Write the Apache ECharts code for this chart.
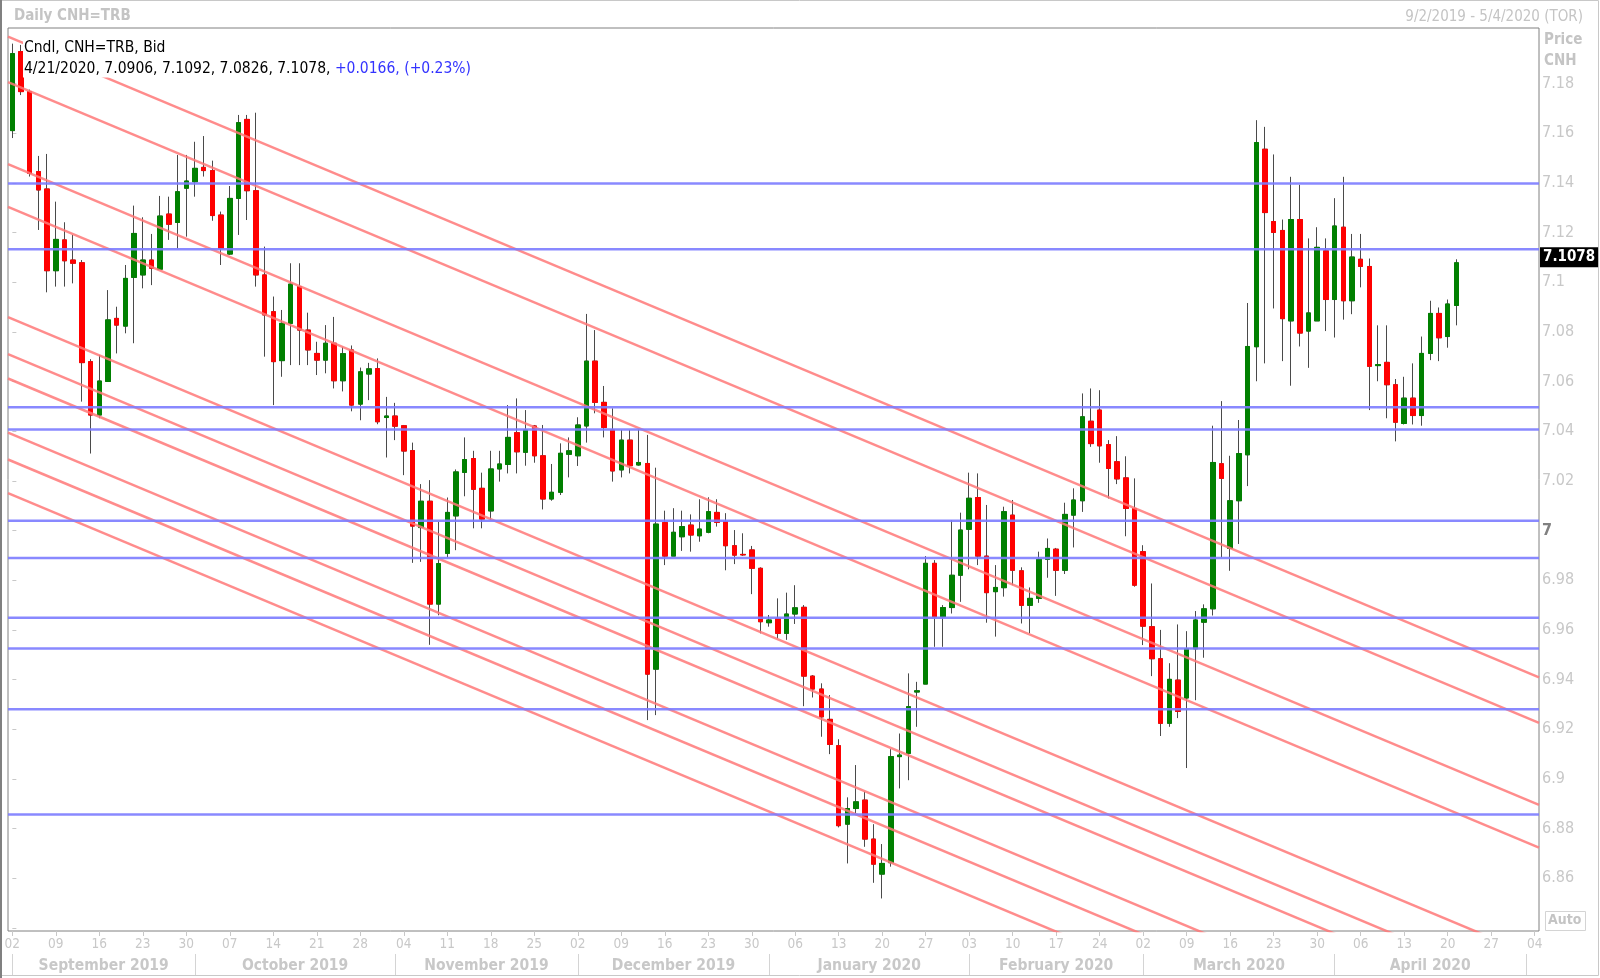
<!DOCTYPE html>
<html>
<head>
<meta charset="utf-8">
<script src="https://cdn.jsdelivr.net/npm/echarts@6/dist/echarts.min.js"></script>
<style>
html,body{margin:0;padding:0;background:#fff;}
#chart{width:1600px;height:978px;}
</style>
</head>
<body>
<div id="chart"></div>
<script>
// ---------- DATA ----------
const startDay = '2019-09-02';
const endDay = '2020-05-04';

const opens = [
7.1610,7.1928,7.1767,7.1445,7.1375,7.1046,7.1170,7.1089,7.1078,7.0680,
7.0465,7.0600,7.0854,7.0823,7.1019,7.1029,7.1089,7.1052,7.1274,7.1240,
7.1378,7.1404,7.1462,7.1449,7.1270,7.1113,7.1337,7.1655,7.1368,7.1029,
7.0881,7.0684,7.0834,7.0982,7.0807,7.0713,7.0686,7.0754,7.0603,7.0727,
7.0509,7.0630,7.0652,7.0455,7.0461,7.0422,7.0322,7.0012,7.0118,6.9704,
6.9908,7.0059,7.0234,7.0290,7.0170,7.0079,7.0248,7.0266,7.0394,7.0315,
7.0421,7.0301,7.0127,7.0154,7.0307,7.0301,7.0421,7.0682,7.0516,7.0405,
7.0244,7.0364,7.0264,7.0270,6.9442,7.0032,6.9897,6.9975,7.0022,6.9979,
6.9993,7.0073,7.0036,6.9939,6.9904,6.9922,6.9848,6.9629,6.9646,6.9586,
6.9664,6.9691,6.9414,6.9362,6.9240,6.9134,6.8818,6.8881,6.8915,6.8758,
6.8617,6.8663,6.9090,6.9103,6.9350,6.9382,6.9868,6.9653,6.9690,6.9820,
7.0005,7.0133,6.9897,6.9754,6.9770,7.0062,6.9838,6.9699,6.9727,6.9884,
6.9925,6.9840,7.0062,7.0120,7.0440,7.0485,7.0346,7.0277,7.0212,7.0089,
6.9915,6.9613,6.9484,6.9224,6.9398,6.9326,6.9524,6.9631,6.9685,7.0269,
6.9928,7.0120,7.0305,7.0740,7.1535,7.1244,7.1208,7.0844,7.1252,7.0803,
7.0844,7.1126,7.0930,7.1221,7.0925,7.1092,7.1063,7.0664,7.0677,7.0587,
7.0431,7.0533,7.0463,7.0713,7.0874,7.0781,7.0906
];
const highs = [
7.1960,7.1955,7.1775,7.1508,7.1516,7.1324,7.1241,7.1190,7.1089,7.0690,
7.0707,7.0968,7.0901,7.1069,7.1308,7.1261,7.1194,7.1347,7.1344,7.1512,
7.1512,7.1565,7.1588,7.1489,7.1284,7.1387,7.1673,7.1673,7.1682,7.1143,
7.0942,7.0888,7.1076,7.1076,7.0877,7.0760,7.0827,7.0860,7.0740,7.0745,
7.0656,7.0675,7.0693,7.0538,7.0514,7.0425,7.0354,7.0187,7.0203,7.0035,
7.0133,7.0246,7.0375,7.0321,7.0233,7.0321,7.0321,7.0505,7.0532,7.0485,
7.0425,7.0425,7.0268,7.0351,7.0375,7.0456,7.0872,7.0807,7.0582,7.0492,
7.0405,7.0405,7.0407,7.0385,7.0253,7.0080,7.0090,7.0080,7.0065,7.0126,
7.0134,7.0126,7.0070,7.0002,6.9989,6.9938,6.9852,6.9660,6.9727,6.9750,
6.9780,6.9700,6.9418,6.9385,6.9338,6.9160,6.8926,6.9056,6.8949,6.8818,
6.8738,6.9120,6.9183,6.9425,6.9391,6.9897,6.9881,6.9700,7.0042,7.0072,
7.0233,7.0230,7.0103,6.9861,7.0096,7.0123,6.9852,6.9771,6.9915,6.9968,
6.9930,7.0112,7.0170,7.0552,7.0572,7.0565,7.0364,7.0380,7.0299,7.0210,
6.9941,6.9787,6.9600,6.9466,6.9622,6.9595,6.9676,6.9703,7.0422,7.0521,
7.0301,7.0445,7.0916,7.1652,7.1625,7.1514,7.1252,7.1424,7.1392,7.1176,
7.1221,7.1176,7.1338,7.1424,7.1194,7.1194,7.1095,7.0826,7.0826,7.0610,
7.0619,7.0673,7.0781,7.0925,7.0898,7.0930,7.1092
];
const lows = [
7.1580,7.1753,7.1425,7.1210,7.0959,7.0982,7.0982,7.0995,7.0519,7.0310,
7.0452,7.0598,7.0713,7.0794,7.0754,7.0975,7.0988,7.1050,7.1170,7.1136,
7.1183,7.1344,7.1425,7.1247,7.1069,7.1109,7.1190,7.1250,7.0982,7.0700,
7.0505,7.0619,7.0666,7.0666,7.0666,7.0626,7.0633,7.0572,7.0560,7.0480,
7.0444,7.0525,7.0428,7.0294,7.0364,7.0223,6.9870,6.9874,6.9540,6.9659,
6.9892,6.9921,7.0138,7.0009,7.0009,7.0042,7.0197,7.0230,7.0230,7.0261,
7.0273,7.0085,7.0120,7.0143,7.0214,7.0260,7.0354,7.0472,7.0375,7.0197,
7.0214,7.0230,7.0261,6.9237,6.9257,6.9861,6.9897,6.9918,6.9915,6.9955,
6.9989,7.0016,6.9840,6.9865,6.9898,6.9744,6.9586,6.9613,6.9566,6.9560,
6.9624,6.9293,6.9328,6.9170,6.9100,6.8805,6.8660,6.8861,6.8727,6.8582,
6.8519,6.8647,6.8962,6.8995,6.9210,6.9382,6.9532,6.9532,6.9666,6.9713,
6.9844,6.9861,6.9629,6.9573,6.9734,6.9780,6.9626,6.9586,6.9709,6.9810,
6.9737,6.9825,6.9932,7.0075,7.0337,7.0273,7.0129,7.0187,6.9977,6.9774,
6.9539,6.9414,6.9173,6.9210,6.9245,6.9044,6.9317,6.9488,6.9658,6.9892,
6.9838,6.9946,7.0179,7.0601,7.0673,7.0894,7.0682,7.0583,7.0741,7.0655,
7.0844,7.0803,7.0777,7.0849,7.0871,7.0979,7.0485,7.0601,7.0452,7.0359,
7.0427,7.0427,7.0422,7.0686,7.0682,7.0736,7.0826
];
const closes = [
7.1920,7.1767,7.1438,7.1371,7.1046,7.1172,7.1086,7.1076,7.0676,7.0465,
7.0602,7.0848,7.0827,7.1015,7.1196,7.1089,7.1056,7.1266,7.1233,7.1364,
7.1407,7.1458,7.1449,7.1268,7.1136,7.1337,7.1642,7.1368,7.1029,7.0868,
7.0680,7.0834,7.0992,7.0807,7.0727,7.0686,7.0754,7.0603,7.0712,7.0505,
7.0639,7.0651,7.0438,7.0461,7.0420,7.0320,7.0018,7.0118,6.9704,6.9867,
7.0073,7.0236,7.0286,7.0166,7.0046,7.0248,7.0268,7.0375,7.0317,7.0405,
7.0301,7.0127,7.0154,7.0311,7.0321,7.0425,7.0682,7.0516,7.0415,7.0240,
7.0364,7.0261,7.0274,6.9422,7.0026,6.9897,6.9993,7.0016,6.9982,7.0006,
7.0076,7.0033,6.9939,6.9901,6.9902,6.9848,6.9633,6.9640,6.9586,6.9664,
6.9689,6.9414,6.9362,6.9250,6.9139,6.8812,6.8881,6.8908,6.8758,6.8657,
6.8660,6.9090,6.9096,6.9291,6.9355,6.9868,6.9653,6.9690,6.9820,7.0002,
7.0130,6.9897,6.9750,6.9771,7.0076,6.9840,6.9699,6.9727,6.9884,6.9928,
6.9840,7.0065,7.0123,7.0458,7.0350,7.0341,7.0250,7.0208,7.0089,6.9780,
6.9615,6.9484,6.9224,6.9401,6.9272,6.9524,6.9640,6.9685,7.0274,7.0210,
7.0120,7.0310,7.0741,7.1562,7.1280,7.1200,7.0853,7.1252,7.0795,7.0876,
7.1140,7.0930,7.1226,7.0925,7.1101,7.1063,7.0661,7.0668,7.0587,7.0436,
7.0533,7.0463,7.0713,7.0874,7.0776,7.0912,7.1078
];

// horizontal support / resistance levels
const hLevels = [7.1397, 7.1132, 7.0496, 7.0407, 7.0039, 6.9890, 6.9649, 6.9525, 6.9281, 6.8857];

// parallel trend lines: value at the first slot edge and at the last slot edge
const trendX = [-0.5, 175.5];
const trendStart = [7.1988, 7.1805, 7.1475, 7.1303, 7.0859, 7.0710, 7.0612, 7.0394, 7.0286, 7.0151];
const trendEnd   = [6.9409, 6.9226, 6.8896, 6.8724, 6.8280, 6.8131, 6.8033, 6.7815, 6.7707, 6.7572];

const yTicks = [6.84, 6.86, 6.88, 6.90, 6.92, 6.94, 6.96, 6.98, 7.00, 7.02, 7.04, 7.06, 7.08, 7.10, 7.12, 7.14, 7.16, 7.18];
const monthNames = ['September 2019','October 2019','November 2019','December 2019','January 2020','February 2020','March 2020','April 2020'];

// ---------- BUILD ----------
const dates = [];
(function(){
  const s = Date.parse(startDay + 'T00:00:00Z'), e = Date.parse(endDay + 'T00:00:00Z');
  for (let t = s; t <= e; t += 86400000) {
    const d = new Date(t); const wd = d.getUTCDay();
    if (wd > 0 && wd < 6) dates.push(d.toISOString().slice(0, 10));
  }
})();
const nSlots = dates.length;
const monthStarts = [];
dates.forEach((d, i) => { if (i === 0 || d.slice(0, 7) !== dates[i - 1].slice(0, 7)) monthStarts.push(i); });
const monthMids = [];
for (let k = 0; k < monthNames.length; k++) monthMids.push((monthStarts[k] + monthStarts[k + 1]) / 2);

const isMonday = (idx, val) => new Date(val + 'T00:00:00Z').getUTCDay() === 1;

const wickData = opens.map((o, i) => [o, closes[i], lows[i], highs[i]]);
const bodyData = opens.map((o, i) => [o, closes[i], Math.min(o, closes[i]), Math.max(o, closes[i])]);

const n = closes.length;
const last = { o: opens[n-1], h: highs[n-1], l: lows[n-1], c: closes[n-1] };
const chg = last.c - closes[n-2];
const pct = chg / closes[n-2] * 100;
const lastDate = new Date(dates[n-1] + 'T00:00:00Z');
const lastDateStr = (lastDate.getUTCMonth()+1) + '/' + lastDate.getUTCDate() + '/' + lastDate.getUTCFullYear();
const sgn = v => (v >= 0 ? '+' : '');

const FONT = "'DejaVu Sans Condensed', 'DejaVu Sans', sans-serif";
const LABEL = '#c8c8c8';

const series = [];
series.push({
  type: 'candlestick', name: 'wick', xAxisIndex: 0, yAxisIndex: 0,
  data: wickData, barWidth: 5, z: 2, silent: true,
  itemStyle: { color: 'rgba(0,0,0,0)', color0: 'rgba(0,0,0,0)', borderColor: '#4a4a4a', borderColor0: '#4a4a4a', borderWidth: 1 }
});
series.push({
  type: 'candlestick', name: 'body', xAxisIndex: 0, yAxisIndex: 0,
  data: bodyData, barWidth: 5, z: 2, silent: true,
  itemStyle: { color: '#008000', color0: '#ff0000', borderColor: '#008000', borderColor0: '#ff0000', borderWidth: 1 }
});
// invisible helper carrying the last-price tag on the price axis
series.push({
  type: 'line', xAxisIndex: 1, yAxisIndex: 0, silent: true, z: 6,
  symbol: 'none', data: [],
  markLine: {
    silent: true, symbol: ['none', 'none'],
    lineStyle: { color: 'rgba(0,0,0,0)', width: 0 },
    data: [{ yAxis: last.c }],
    label: {
      show: true, position: 'end', distance: 1,
      formatter: last.c.toFixed(4),
      backgroundColor: '#000', color: '#fff', fontWeight: 'bold', fontSize: 15,
      fontFamily: FONT, padding: [3, 3, 2, 3]
    }
  }
});
trendStart.forEach((s, k) => {
  series.push({
    type: 'line', xAxisIndex: 1, yAxisIndex: 0, silent: true, z: 3,
    symbol: 'none', clip: true,
    data: [[trendX[0], s], [trendX[1], trendEnd[k]]],
    lineStyle: { color: '#ff7878', width: 2.5, opacity: 0.85 }
  });
});
hLevels.forEach(v => {
  series.push({
    type: 'line', xAxisIndex: 1, yAxisIndex: 0, silent: true, z: 4,
    symbol: 'none',
    data: [[trendX[0], v], [trendX[1], v]],
    lineStyle: { color: '#7c7cff', width: 2.5, opacity: 0.9 }
  });
});

const chart = echarts.init(document.getElementById('chart'), null, { renderer: 'canvas' });
chart.setOption({
  animation: false,
  backgroundColor: '#fff',
  title: [
    { text: 'Daily CNH=TRB', left: 9, top: 4, textStyle: { color: '#c4c4c4', fontWeight: 'bold', fontSize: 15, fontFamily: FONT } },
    { text: '9/2/2019 - 5/4/2020 (TOR)', right: 12, top: 5, textStyle: { color: '#c4c4c4', fontWeight: 'normal', fontSize: 15, fontFamily: FONT } },
    {
      text: '{k|Cndl, CNH=TRB, Bid}\n{k|' + lastDateStr + ', ' + last.o.toFixed(4) + ', ' + last.h.toFixed(4) + ', ' + last.l.toFixed(4) + ', ' + last.c.toFixed(4) + ', }{b|' + sgn(chg) + chg.toFixed(4) + ', (' + sgn(pct) + pct.toFixed(2) + '%)}',
      left: 23, top: 36, padding: [1, 3, 1, 1], backgroundColor: '#fff', z: 10,
      textStyle: { fontWeight: 'normal', rich: {
        k: { color: '#000', fontSize: 15.5, fontWeight: 'normal', fontFamily: FONT, lineHeight: 21 },
        b: { color: '#3333ff', fontSize: 15.5, fontWeight: 'normal', fontFamily: FONT, lineHeight: 21 }
      } }
    }
  ],
  grid: { left: 8, top: 28, width: 1531, height: 903, show: true, borderColor: '#808080', borderWidth: 1, backgroundColor: '#fff' },
  xAxis: [
    {
      type: 'category', data: dates, boundaryGap: true, position: 'bottom',
      axisLine: { show: false },
      axisTick: { show: true, alignWithLabel: true, interval: isMonday, length: 5, lineStyle: { color: LABEL } },
      axisLabel: { interval: isMonday, formatter: v => v.slice(8, 10), color: LABEL, fontSize: 13.5, fontFamily: FONT, margin: 6 },
      splitLine: { show: false }
    },
    {
      type: 'value', min: -0.5, max: nSlots - 0.5, position: 'bottom', offset: 23,
      axisLine: { show: false },
      axisTick: { show: true, customValues: monthStarts, length: 21, lineStyle: { color: '#d4d4d4' } },
      axisLabel: { customValues: monthMids, formatter: v => monthNames[monthMids.indexOf(v)] || '', color: LABEL, fontWeight: 'bold', fontSize: 15.5, fontFamily: FONT, margin: 4 },
      splitLine: { show: false }
    }
  ],
  yAxis: [{
    type: 'value', position: 'right', min: 6.8388, max: 7.2023, scale: true,
    axisLine: { show: false },
    axisTick: { show: true, length: 4, customValues: yTicks, lineStyle: { color: LABEL } },
    axisLabel: {
      customValues: yTicks.filter(v => v > 6.85), margin: 3, color: LABEL, fontSize: 16, fontFamily: FONT,
      formatter: v => { const s = String(parseFloat(v.toFixed(2))); return Math.abs(v - 7) < 1e-9 ? '{s|' + s + '}' : s; },
      rich: { s: { color: '#808080', fontWeight: 'bold', fontSize: 16, fontFamily: FONT } }
    },
    splitLine: { show: false }
  }],
  graphic: [
    { type: 'rect', z: 0, silent: true, shape: { x: 0.5, y: 0.5, width: 1598, height: 975 }, style: { fill: 'none', stroke: '#c8c8c8', lineWidth: 1 } },
    { type: 'line', z: 0, silent: true, shape: { x1: 1, y1: 0, x2: 1, y2: 978 }, style: { stroke: '#808080', lineWidth: 2 } },
    { type: 'text', z: 10, silent: true, left: 1544, top: 30, style: { text: 'Price\nCNH', fill: '#c4c4c4', font: "bold 15px 'DejaVu Sans Condensed', 'DejaVu Sans', sans-serif", lineHeight: 21 } },
    { type: 'rect', z: 10, silent: true, shape: { x: 1545.5, y: 911.5, width: 40, height: 19 }, style: { fill: '#fff', stroke: '#d4d4d4', lineWidth: 1 } },
    { type: 'text', z: 11, silent: true, left: 1548, top: 913, style: { text: 'Auto', fill: '#c4c4c4', font: "bold 14px 'DejaVu Sans Condensed', 'DejaVu Sans', sans-serif" } }
  ],
  series: series
});
</script>
</body>
</html>
